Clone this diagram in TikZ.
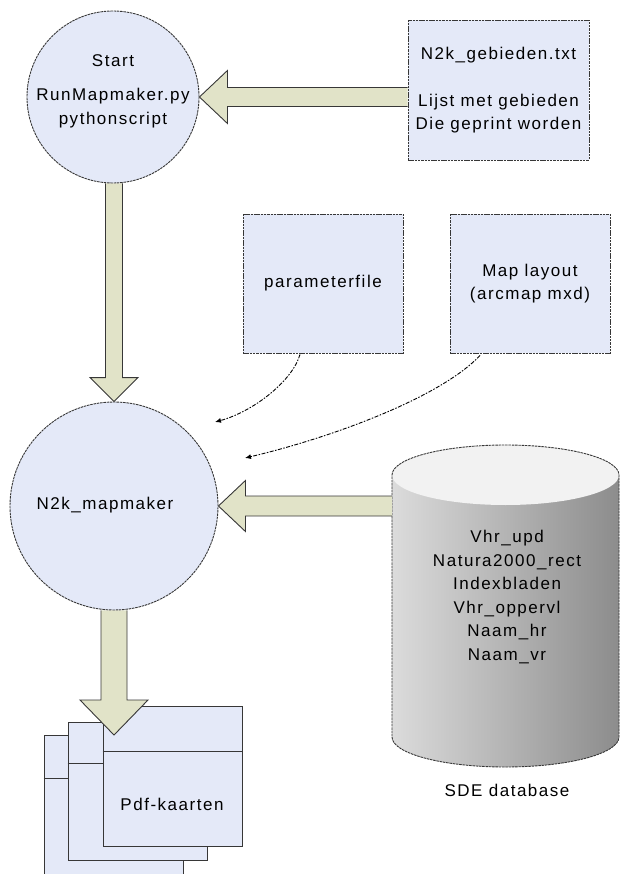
\documentclass[tikz,border=0pt]{standalone}
\usepackage{fontspec}
\setmainfont{Liberation Sans}[LetterSpace=9]
\usetikzlibrary{calc,arrows.meta}
\pgfdeclarelayer{back}
\pgfdeclarelayer{mid}
\pgfsetlayers{back,mid,main}
\definecolor{boxfill}{RGB}{228,233,248}
\definecolor{arrfill}{RGB}{225,227,200}
\definecolor{edge}{RGB}{55,55,55}
\tikzset{
  lbl/.style={font=\fontsize{17}{23.5}\selectfont, align=center, inner sep=0pt},
  base/.style={lbl, draw=edge, line width=0.9pt, dash pattern=on 2.5pt off 0.8pt, fill=boxfill},
  circ/.style={base, circle},
  rbox/.style={base, rectangle},
  fat/.style={draw=edge, line width=0.9pt, fill=arrfill, line join=miter},
  doc/.style={draw=edge, line width=1pt, fill=boxfill, rectangle, inner sep=0pt},
  dd/.style={draw=black, line width=0.9pt, dash pattern=on 4pt off 1.5pt on 1.5pt off 1.5pt, -{Latex[length=6pt,width=5pt]}},
}
\newcommand\fatdown[5]{%
  \draw[fat] ($(#2|-#1)+(-#3,0)$) -- ($(#2)+(-#3,-#5)$) -- ($(#2)+(-#4,-#5)$) -- (#2)
    -- ($(#2)+(#4,-#5)$) -- ($(#2)+(#3,-#5)$) -- ($(#2|-#1)+(#3,0)$);}
\newcommand\fatleft[5]{%
  \draw[fat] ($(#1|-#2)+(0,-#3)$) -- ($(#2)+(#5,-#3)$) -- ($(#2)+(#5,-#4)$) -- (#2)
    -- ($(#2)+(#5,#4)$) -- ($(#2)+(#5,#3)$) -- ($(#1|-#2)+(0,#3)$);}
\begin{document}
\begin{tikzpicture}[x=1pt,y=-1pt]
\useasboundingbox (0,0) rectangle (621,874);

% circles and boxes
\node[circ, minimum size=172pt] (start) at (113,97) {};
\node[lbl] (starttext) at (113,91) {Start\\[11pt]RunMapmaker.py\\pythonscript};
\node[rbox, minimum width=181pt, minimum height=140pt] (gebieden) at (498.5,90)
  {N2k\_gebieden.txt\\[23.5pt]Lijst met gebieden\\Die geprint worden};
\node[rbox, minimum width=160pt, minimum height=139pt] (param) at (323,283.5) {parameterfile};
\node[rbox, minimum width=160pt, minimum height=139pt] (map) at (530,283.5) {Map layout\\(arcmap mxd)};
\node[circ, minimum size=208pt] (mapmaker) at (114,506) {};
\node[lbl] (mmtext) at (105,505) {N2k\_mapmaker};

% database cylinder
\node[minimum width=227pt, minimum height=262pt, inner sep=0pt] (db) at (505.5,606) {};
\begin{pgfonlayer}{mid}
\shade[left color=black!14, middle color=black!22, right color=black!45]
  (392,475) -- (392,737) arc[start angle=180, end angle=360, x radius=113.5pt, y radius=30pt]
  -- (619,475) -- cycle;
\fill[black!5] (505.5,475) ellipse [x radius=113.5pt, y radius=30pt];
\draw[edge, line width=0.9pt, dash pattern=on 2.5pt off 0.8pt]
  (392,475) arc[start angle=180, end angle=0, x radius=113.5pt, y radius=30pt]
  -- (619,737) arc[start angle=0, end angle=-180, x radius=113.5pt, y radius=30pt] -- cycle;
\end{pgfonlayer}
\node[lbl] (dbtext) at (507,597) {Vhr\_upd\\Natura2000\_rect\\Indexbladen\\Vhr\_oppervl\\Naam\_hr\\Naam\_vr};
\node[lbl] (sde) at (507,790) {SDE database};

% pdf documents
\begin{pgfonlayer}{back}
\node[doc, minimum width=139pt, minimum height=139pt] (pdfc) at (113.5,804.5) {};
\draw[edge, line width=1pt] ($(pdfc.north west)+(0,44)$) -- ($(pdfc.north east)+(0,44)$);
\node[doc, minimum width=139pt, minimum height=138pt] (pdfb) at (137.5,791) {};
\draw[edge, line width=1pt] ($(pdfb.north west)+(0,42)$) -- ($(pdfb.north east)+(0,42)$);
\node[doc, minimum width=139pt, minimum height=140pt] (pdf) at (172.5,776) {};
\draw[edge, line width=1pt] ($(pdf.north west)+(0,46)$) -- ($(pdf.north east)+(0,46)$);
\end{pgfonlayer}
\node[lbl] (pdftext) at (172,804) {Pdf-kaarten};
\coordinate (pdftip) at (114,735);

% fat arrows
\begin{pgfonlayer}{mid}
\fatleft{gebieden.west}{start.east}{9.5}{26.5}{28}
\fatdown{start.south}{mapmaker.north}{8.5}{24}{24}
\fatleft{db.west}{mapmaker.east}{10}{25.5}{27}
\fatdown{mapmaker.south}{pdftip}{13}{34}{35}
\end{pgfonlayer}

% dashed curved arrows
\coordinate (pend) at (215,422);
\coordinate (mend) at (245,458);
\draw[dd] ($(param.south)+(-23,1)$) .. controls (292,382) and (252,412) .. (pend);
\draw[dd] ($(map.south)+(-50,2)$) .. controls (440,398) and (330,438) .. (mend);
\end{tikzpicture}
\end{document}
